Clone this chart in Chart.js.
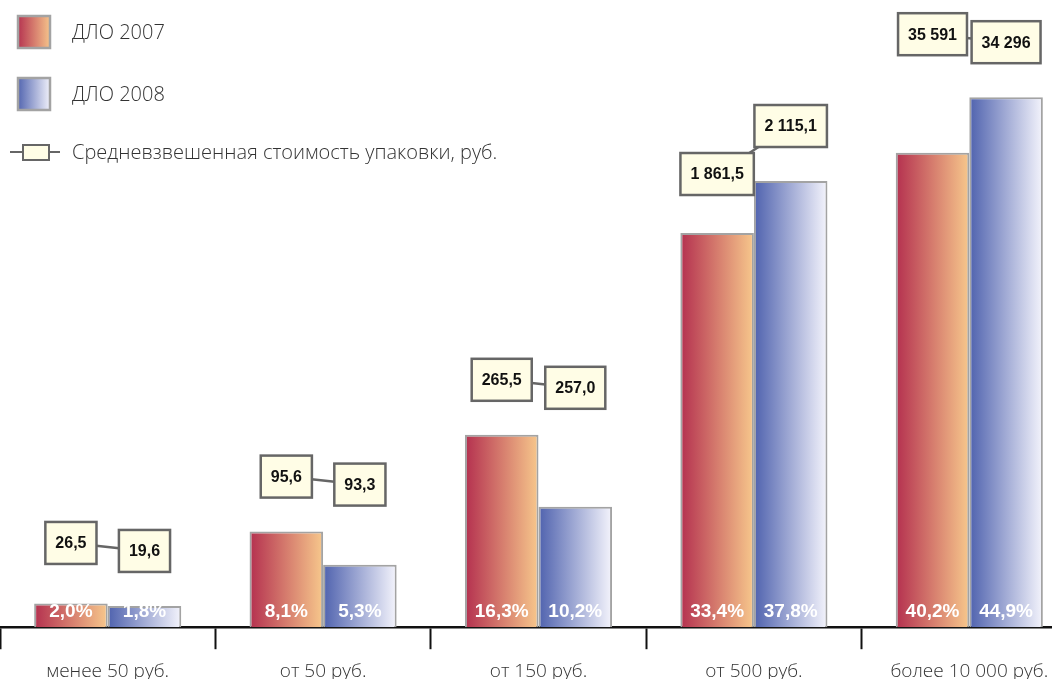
<!DOCTYPE html>
<html>
<head>
<meta charset="utf-8">
<script src="https://cdn.jsdelivr.net/npm/chart.js@4/dist/chart.umd.min.js"></script>
<style>
  html, body { margin: 0; padding: 0; background: #fff; overflow: hidden; }
  #wrap { position: relative; width: 1052px; height: 679px; overflow: hidden; }
  #wrap canvas { position: absolute; left: 0; top: 0; }
</style>
</head>
<body>
<div id="wrap"><canvas id="chart" width="1077" height="700"></canvas></div>
<script>
// Price bands of a drug package
const categories = ['менее 50 руб.', 'от 50 руб.', 'от 150 руб.', 'от 500 руб.', 'более 10 000 руб.'];
// Share of the programme budget, %
const share2007 = [2.0, 8.1, 16.3, 33.4, 40.2];
const share2008 = [1.8, 5.3, 10.2, 37.8, 44.9];
// Weighted average package price, rub.
const price2007 = [26.5, 95.6, 265.5, 1861.5, 35591];
const price2008 = [19.6, 93.3, 257.0, 2115.1, 34296];
const seriesNames = ['ДЛО 2007', 'ДЛО 2008'];
const priceSeriesName = 'Средневзвешенная стоимость упаковки, руб.';

const FILL_2007 = ['#b4304f', '#f7c88c'];
const FILL_2008 = ['#4f62ae', '#f4f4fc'];
const BAR_BORDER = '#a3a3a3';
const CAT_PCT = 0.683;
const LIGHT_FONT = '"Open Sans", Roboto, "Liberation Sans", sans-serif';
const BOLD_FONT = '"Liberation Sans", Arial, sans-serif';

const BOX_H = 42, BOX_PAD = 10, BOX_MIN_W = 50, BOX_GAP = 34;

function groupNum(intPart) {
  return intPart.replace(/\B(?=(\d{3})+(?!\d))/g, ' ');
}
function fmtShare(v) {
  return v.toFixed(1).replace('.', ',') + '%';
}
function fmtPrice(v) {
  const s = v >= 10000 ? v.toFixed(0) : v.toFixed(1);
  const [i, d] = s.split('.');
  return groupNum(i) + (d !== undefined ? ',' + d : '');
}

// Horizontal gradient spanning exactly one bar
function barFill(stops) {
  return (c) => {
    const chart = c.chart;
    const xs = chart.scales && chart.scales.x;
    if (!xs || c.dataIndex === undefined || !chart.chartArea) return stops[0];
    const catW = (xs.right - xs.left) / categories.length;
    const groupW = catW * CAT_PCT;
    const center = xs.getPixelForValue(c.dataIndex);
    const left = center - groupW / 2 + c.datasetIndex * groupW / 2;
    const g = chart.ctx.createLinearGradient(left, 0, left + groupW / 2, 0);
    g.addColorStop(0, stops[0]);
    g.addColorStop(1, stops[1]);
    return g;
  };
}

function legendSwatch(ctx, x, y, s, stops) {
  const g = ctx.createLinearGradient(x, 0, x + s, 0);
  g.addColorStop(0, stops[0]);
  g.addColorStop(1, stops[1]);
  ctx.fillStyle = g;
  ctx.fillRect(x, y, s, s);
  ctx.strokeStyle = BAR_BORDER;
  ctx.lineWidth = 2.5;
  ctx.strokeRect(x + 1, y + 1, s - 2, s - 2);
}

function drawBox(ctx, cx, bottom, w, text) {
  const x = cx - w / 2, y = bottom - BOX_H;
  ctx.fillStyle = '#fffde6';
  ctx.fillRect(x, y, w, BOX_H);
  ctx.strokeStyle = '#666';
  ctx.lineWidth = 2.5;
  ctx.strokeRect(x, y, w, BOX_H);
  ctx.fillStyle = '#111';
  ctx.textAlign = 'center';
  ctx.textBaseline = 'middle';
  ctx.fillText(text, cx, y + BOX_H / 2 + 1);
}

const labelsPlugin = {
  id: 'shareAndPriceLabels',
  afterDatasetsDraw(chart) {
    const ctx = chart.ctx;
    const m0 = chart.getDatasetMeta(0).data;
    const m1 = chart.getDatasetMeta(1).data;
    ctx.save();

    // percentage inside the foot of every bar
    ctx.font = 'bold 19px ' + BOLD_FONT;
    ctx.fillStyle = '#fff';
    ctx.textAlign = 'center';
    ctx.textBaseline = 'middle';
    [[m0, share2007], [m1, share2008]].forEach(([els, vals]) => {
      els.forEach((el, i) => ctx.fillText(fmtShare(vals[i]), el.x, el.base - 15));
    });

    // price callouts above each pair, joined by a short line
    ctx.font = 'bold 16px ' + BOLD_FONT;
    categories.forEach((_, i) => {
      const a = m0[i], b = m1[i];
      const ta = fmtPrice(price2007[i]), tb = fmtPrice(price2008[i]);
      const wa = Math.max(BOX_MIN_W, ctx.measureText(ta).width + BOX_PAD * 2);
      const wb = Math.max(BOX_MIN_W, ctx.measureText(tb).width + BOX_PAD * 2);
      const limA = a.y - BOX_GAP, limB = b.y - BOX_GAP;
      const overlap = a.x + wa / 2 > b.x - wb / 2 - 2;
      const dy = overlap ? BOX_H + 6 : 8;
      let ya, yb;
      if (price2008[i] < price2007[i]) {
        ya = Math.min(limA, limB - dy); yb = ya + dy;
      } else {
        yb = Math.min(limB, limA - dy); ya = yb + dy;
      }
      ctx.strokeStyle = '#666';
      ctx.lineWidth = 2.5;
      ctx.beginPath();
      ctx.moveTo(a.x, ya - BOX_H / 2);
      ctx.lineTo(b.x, yb - BOX_H / 2);
      ctx.stroke();
      drawBox(ctx, a.x, ya, wa, ta);
      drawBox(ctx, b.x, yb, wb, tb);
    });
    ctx.restore();
  },
  afterDraw(chart) {
    // legend block in the upper left corner
    const ctx = chart.ctx;
    ctx.save();
    legendSwatch(ctx, 17, 15, 34, FILL_2007);
    legendSwatch(ctx, 17, 77, 34, FILL_2008);
    ctx.strokeStyle = '#666';
    ctx.lineWidth = 2;
    ctx.beginPath();
    ctx.moveTo(10, 152); ctx.lineTo(60, 152);
    ctx.stroke();
    ctx.fillStyle = '#fffde6';
    ctx.fillRect(23, 145, 26, 15);
    ctx.strokeRect(23, 145, 26, 15);
    ctx.font = '300 20px ' + LIGHT_FONT;
    ctx.fillStyle = '#333';
    ctx.textAlign = 'left';
    ctx.textBaseline = 'middle';
    ctx.fillText(seriesNames[0], 72, 33);
    ctx.fillText(seriesNames[1], 72, 95);
    ctx.fillText(priceSeriesName, 72, 153);
    ctx.restore();
  }
};

new Chart(document.getElementById('chart'), {
  type: 'bar',
  data: {
    labels: categories,
    datasets: [
      { label: seriesNames[0], data: share2007, backgroundColor: barFill(FILL_2007) },
      { label: seriesNames[1], data: share2008, backgroundColor: barFill(FILL_2008) }
    ]
  },
  options: {
    responsive: false,
    devicePixelRatio: 1,
    animation: false,
    layout: { padding: { top: 37, left: 0, right: 0, bottom: 6 } },
    datasets: {
      bar: {
        borderColor: BAR_BORDER,
        borderWidth: 2,
        borderSkipped: 'bottom',
        barPercentage: 1,
        categoryPercentage: CAT_PCT
      }
    },
    plugins: { legend: { display: false }, tooltip: { enabled: false } },
    scales: {
      x: {
        offset: true,
        grid: {
          offset: true,
          drawOnChartArea: false,
          drawTicks: true,
          tickLength: 22,
          tickWidth: 2,
          tickColor: '#111'
        },
        border: { display: true, color: '#111', width: 2.5 },
        ticks: {
          color: '#333',
          padding: 11,
          font: { family: LIGHT_FONT, size: 19, weight: 300 }
        }
      },
      y: { display: false, min: 0, max: 50 }
    }
  },
  plugins: [labelsPlugin]
});
</script>
</body>
</html>
